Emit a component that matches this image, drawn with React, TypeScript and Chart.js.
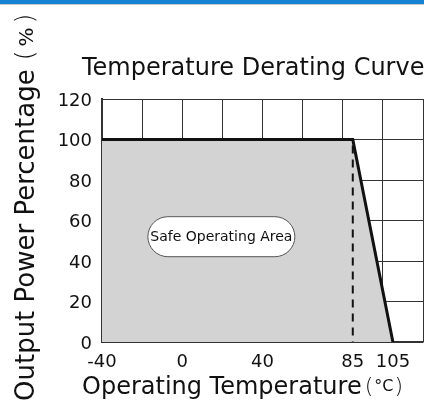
import React, { useEffect, useRef } from "react";
import { Chart, registerables } from "chart.js";

Chart.register(...registerables);

const chartTitle = "Temperature Derating Curve";
const xAxisTitle = "Operating Temperature";
const xAxisUnit = ["(", "°C", ")"];
const yAxisTitle = "Output Power Percentage";
const yAxisUnit = ["(", "%", ")"];

const xGridTicks = [-40, -20, 0, 20, 40, 60, 80, 85, 100, 105, 120];
const xLabelTicks = [-40, 0, 40, 85, 105];
const xHiddenGrid = [85, 105];
const yTicks = [0, 20, 40, 60, 80, 100, 120];

const curveTemps = [-40, 85, 105];
const curvePower = [100, 100, 0];
const derateTemps = [85, 85];
const deratePower = [100, 0];

const areaLabel = "Safe Operating Area";
const areaLabelPos = { x: 19.5, y: 52 };

const FONT = "'DejaVu Sans', sans-serif";

export default function App() {
  const ref = useRef<HTMLCanvasElement | null>(null);

  useEffect(() => {
    if (!ref.current) return;

    const overlay = {
      id: "overlay",
      afterDraw(chart: any) {
        const ctx = chart.ctx as CanvasRenderingContext2D;
        const w = chart.width;
        ctx.save();
        // top blue bar
        ctx.fillStyle = "#1583d3";
        ctx.fillRect(0, 0, w, 4);
        ctx.fillStyle = "#c8c8c8";
        ctx.fillRect(0, 4, w, 1);

        // pill label
        const xs = chart.scales.x;
        const ys = chart.scales.y;
        const cx = xs.getPixelForValue(areaLabelPos.x);
        const cy = ys.getPixelForValue(areaLabelPos.y);
        const pw = 147, ph = 40, r = 20;
        ctx.beginPath();
        ctx.roundRect(cx - pw / 2, cy - ph / 2, pw, ph, r);
        ctx.fillStyle = "#ffffff";
        ctx.fill();
        ctx.lineWidth = 1;
        ctx.strokeStyle = "#555";
        ctx.stroke();
        ctx.fillStyle = "#111";
        ctx.font = `14px ${FONT}`;
        ctx.textAlign = "center";
        ctx.textBaseline = "middle";
        ctx.fillText(areaLabel, cx, cy + 1);

        // title
        ctx.font = `24px ${FONT}`;
        ctx.textAlign = "left";
        ctx.textBaseline = "alphabetic";
        ctx.fillText(chartTitle, 82, 75);

        // x axis title
        ctx.font = `24px ${FONT}`;
        ctx.fillText(xAxisTitle, 82, 394);
        let px = 82 + ctx.measureText(xAxisTitle).width + 3;
        ctx.font = `200 22px ${FONT}`;
        ctx.fillText(xAxisUnit[0], px, 393);
        px += ctx.measureText(xAxisUnit[0]).width + 1;
        ctx.font = `16px ${FONT}`;
        ctx.fillText(xAxisUnit[1], px, 391);
        px += ctx.measureText(xAxisUnit[1]).width + 1;
        ctx.font = `200 22px ${FONT}`;
        ctx.fillText(xAxisUnit[2], px, 393);

        // y axis title
        ctx.translate(34, 401);
        ctx.rotate(-Math.PI / 2);
        ctx.font = `26px ${FONT}`;
        ctx.textAlign = "left";
        ctx.fillText(yAxisTitle, 0, 0);
        let py = ctx.measureText(yAxisTitle).width + 9;
        ctx.font = `200 25px ${FONT}`;
        ctx.fillText(yAxisUnit[0], py, -1);
        py += ctx.measureText(yAxisUnit[0]).width + 4;
        ctx.font = `20px ${FONT}`;
        ctx.fillText(yAxisUnit[1], py, -1);
        py += ctx.measureText(yAxisUnit[1]).width + 4;
        ctx.font = `200 25px ${FONT}`;
        ctx.fillText(yAxisUnit[2], py, -1);
        ctx.restore();
      },
    };

    const chart = new Chart(ref.current, {
      type: "line",
      data: {
        datasets: [
          {
            data: curveTemps.map((t, i) => ({ x: t, y: curvePower[i] })),
            borderColor: "#111",
            borderWidth: 3,
            backgroundColor: "#d3d3d3",
            fill: "origin",
            pointRadius: 0,
            tension: 0,
            order: 2,
          },
          {
            data: derateTemps.map((t, i) => ({ x: t, y: deratePower[i] })),
            borderColor: "#111",
            borderWidth: 2,
            borderDash: [8, 6],
            borderDashOffset: -6,
            fill: false,
            pointRadius: 0,
            order: 1,
          },
        ],
      },
      options: {
        animation: false,
        responsive: false,
        layout: { padding: { top: 99, right: 1, left: 0, bottom: 0 } },
        plugins: {
          legend: { display: false },
          tooltip: { enabled: false },
          title: { display: false },
        },
        scales: {
          x: {
            type: "linear",
            min: -40,
            max: 120,
            z: 1,
            afterBuildTicks: (scale: any) => {
              scale.ticks = xGridTicks.map((v) => ({ value: v }));
            },
            afterFit: (scale: any) => {
              scale.height = 61;
              scale.paddingLeft = 0;
              scale.paddingRight = 0;
            },
            ticks: {
              autoSkip: false,
              maxRotation: 0,
              padding: 10,
              color: "#111",
              font: { family: FONT, size: 18 },
              callback: (v: any) => (xLabelTicks.includes(Number(v)) ? String(v) : ""),
            },
            grid: {
              drawTicks: false,
              color: (c: any) =>
                xHiddenGrid.includes(c.tick?.value) ? "rgba(0,0,0,0)" : "#333",
              lineWidth: 1,
            },
            border: { display: true, color: "#333", width: 1.5 },
          },
          y: {
            type: "linear",
            min: 0,
            max: 120,
            z: 1,
            afterBuildTicks: (scale: any) => {
              scale.ticks = yTicks.map((v) => ({ value: v }));
            },
            afterFit: (scale: any) => {
              scale.width = 102;
              scale.paddingTop = 0;
              scale.paddingBottom = 0;
            },
            ticks: {
              padding: 10,
              labelOffset: 2,
              color: "#111",
              font: { family: FONT, size: 18 },
            },
            grid: { drawTicks: false, color: "#333", lineWidth: 1 },
            border: { display: true, color: "#333", width: 2 },
          },
        },
      },
      plugins: [overlay],
    });
    return () => chart.destroy();
  }, []);

  return (
    <div style={{ position: "fixed", left: 0, top: 0, width: 424, height: 403, background: "#fff" }}>
      <canvas ref={ref} width={424} height={403} style={{ display: "block" }} />
    </div>
  );
}
